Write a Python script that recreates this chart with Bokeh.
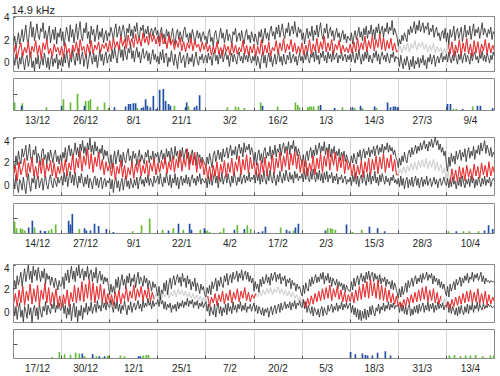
import numpy as np
from bokeh.plotting import figure
from bokeh.layouts import column
from bokeh.models import FixedTicker
from bokeh.embed import file_html
from bokeh.resources import INLINE

TITLE = "14.9 kHz"
SPAN_DAYS = 130
BOUNDS = [13, 26, 39, 52, 65, 78, 91, 104, 117]
CENTERS = [6.5, 19.5, 32.5, 45.5, 58.5, 71.5, 84.5, 97.5, 110.5, 123.5]
labels1 = ["13/12", "26/12", "8/1", "21/1", "3/2", "16/2", "1/3", "14/3", "27/3", "9/4"]
labels2 = ["14/12", "27/12", "9/1", "22/1", "4/2", "17/2", "2/3", "15/3", "28/3", "10/4"]
labels3 = ["17/12", "30/12", "12/1", "25/1", "7/2", "20/2", "5/3", "18/3", "31/3", "13/4"]

# ---------------- panel 1: black envelopes (3 samples/day), middle (2 samples/day) ----------------
upper1 = [
 1.5, 2.3, 1.2, 1.9, 2.6, 1.6, 2.2, 2.9, 1.8, 2.5, 3.3, 2.0, 1.7, 2.8, 3.6, 2.2, 3.1, 1.9, 2.6, 3.4, 2.4, 2.0, 3.0, 2.7, 3.5, 2.1, 2.8, 1.8, 2.5, 3.2, 1.7, 2.4, 2.9, 2.0, 3.1, 1.6, 2.6, 2.2, 3.0,
 1.9, 2.7, 1.4, 2.3, 3.1, 2.5, 1.8, 3.3, 2.2, 2.9, 1.7, 2.6, 3.4, 2.0, 2.8, 3.6, 2.3, 1.9, 3.0, 2.6, 3.5, 2.1, 2.7, 1.6, 3.2, 2.4, 2.9, 1.8, 2.5, 3.3, 2.0, 2.7, 2.2, 3.0, 1.7, 2.4, 2.8, 1.9, 2.6,
 2.3, 3.1, 2.6, 1.9, 2.9, 3.4, 2.2, 2.7, 3.2, 2.0, 2.8, 3.3, 2.5, 1.8, 3.0, 2.6, 3.4, 2.3, 2.9, 2.1, 3.2, 2.7, 3.5, 2.4, 2.0, 3.1, 2.8, 3.3, 2.2, 2.9, 2.5, 3.2, 2.1, 2.7, 3.0, 2.3, 2.8, 3.1, 2.4,
 2.8, 1.8, 2.6, 3.1, 2.0, 2.5, 1.6, 2.9, 2.3, 2.7, 1.7, 2.4, 3.0, 2.1, 1.5, 2.6, 2.9, 2.0, 2.7, 2.3, 1.8, 2.8, 3.1, 2.2, 2.5, 1.7, 2.6, 2.0, 2.9, 2.4, 1.6, 2.3, 2.8, 2.1, 2.6, 1.8, 2.4, 2.7, 2.0,
 2.3, 1.6, 2.6, 2.9, 1.8, 2.2, 1.4, 2.5, 2.8, 2.0, 1.6, 2.4, 3.0, 2.1, 2.6, 1.7, 2.3, 2.9, 1.9, 2.5, 2.2, 1.5, 2.7, 2.4, 3.0, 1.8, 2.3, 2.6, 1.9, 2.8, 2.1, 1.6, 2.5, 2.9, 2.0, 2.4, 1.7, 2.7, 2.2,
 1.8, 2.5, 2.0, 1.5, 2.7, 2.2, 2.9, 1.7, 2.4, 3.0, 2.1, 2.6, 1.9, 2.8, 3.2, 2.3, 2.7, 2.0, 3.1, 2.5, 3.3, 2.2, 2.8, 3.4, 2.4, 2.1, 3.0, 2.6, 3.5, 2.3, 2.9, 3.2, 2.5, 3.6, 2.7, 2.2, 3.1, 2.6, 2.9,
 2.0, 2.6, 1.6, 2.4, 3.0, 2.1, 2.7, 2.3, 3.2, 1.9, 2.8, 2.4, 3.3, 2.2, 2.9, 3.5, 2.4, 2.0, 3.0, 2.6, 3.4, 2.1, 2.7, 3.1, 2.3, 2.8, 1.9, 2.5, 3.0, 2.2, 2.6, 1.8, 2.4, 2.8, 2.0, 2.5, 1.7, 2.3, 2.1,
 1.9, 2.6, 1.6, 2.3, 2.8, 2.0, 2.5, 3.1, 2.2, 2.7, 1.9, 3.0, 2.4, 3.2, 2.1, 2.8, 2.5, 3.3, 2.3, 2.9, 2.0, 3.1, 2.6, 3.4, 2.4, 2.8, 3.2, 2.2, 3.0, 2.7, 3.5, 2.5, 3.1, 2.8, 3.7, 2.4, 3.0, 2.6, 2.2,
 1.4, 2.0, 1.6, 2.4, 1.9, 2.6, 2.2, 1.8, 2.9, 2.4, 3.2, 2.6, 3.0, 3.6, 2.5, 3.3, 2.8, 3.7, 2.7, 3.1, 3.5, 2.6, 3.2, 2.9, 3.5, 2.4, 3.0, 2.7, 3.3, 2.2, 2.8, 3.1, 2.3, 2.6, 1.9, 2.5, 2.8, 2.1, 3.0,
 1.8, 2.6, 1.5, 2.9, 2.2, 2.5, 3.2, 1.9, 2.7, 3.0, 2.1, 2.6, 3.1, 1.8, 2.5, 3.3, 2.2, 2.8, 2.4, 3.2, 2.0, 2.7, 3.4, 2.3, 2.9, 2.6, 3.1, 2.1, 2.8, 3.5, 2.4, 3.0, 2.6, 2.2, 2.9, 2.5, 3.1, 2.0, 2.7,
 2.5]
lower1 = [
 0.5, -0.3, 0.7, 0.1, -0.6, 0.4, -0.2, 0.8, 0.0, -0.7, 0.3, 0.6, -0.4, 0.2, 0.9, -0.5, 0.1, -0.8, 0.4, -0.2, 0.6, -0.6, 0.0, 0.5, -0.3, 0.8, 0.2, -0.5, 0.4, -0.7, 0.1, 0.6, -0.4, 0.3, -0.1, 0.7, -0.6, 0.2, -0.3,
 0.4, -0.4, 0.7, -0.1, 1.0, 0.2, -0.5, 0.6, 0.0, 1.1, 0.3, -0.3, 0.8, 0.1, 1.2, -0.2, 0.5, 0.9, -0.4, 0.3, 0.7, -0.6, 0.2, 1.0, 0.4, -0.2, 0.8, 0.0, 0.6, -0.5, 0.3, 1.1, 0.1, 0.7, -0.3, 0.5, 0.9, -0.1, 0.4,
 0.7, 0.0, 1.1, 0.3, 1.3, 0.5, -0.1, 0.9, 1.5, 0.4, 1.1, 0.1, 1.4, 0.6, 0.2, 1.2, 0.8, 1.6, 0.3, 1.0, 0.0, 0.8, 1.3, 0.4, 0.9, -0.1, 0.7, 1.2, 0.3, 0.6, 1.0, 0.1, 0.8, -0.2, 0.5, 1.1, 0.2, 0.7, 0.0,
 0.5, -0.2, 0.9, 0.2, 1.1, -0.1, 0.6, 0.8, -0.4, 0.4, 0.0, 1.0, 0.3, -0.3, 0.7, 0.1, -0.6, 0.5, 0.9, -0.1, 0.3, 0.6, -0.5, 0.2, 0.8, -0.2, 0.4, 0.0, 0.7, -0.4, 0.3, 0.9, 0.1, -0.3, 0.5, 0.2, 0.7, -0.1, 0.4,
 0.6, -0.1, 0.8, 0.2, 0.5, -0.3, 0.7, 1.0, 0.1, 0.6, -0.2, 0.8, 0.3, 1.1, 0.0, 0.5, 0.9, 0.2, 0.6, -0.4, 0.4, 0.8, 0.0, 0.7, 0.3, -0.2, 0.6, 0.9, 0.1, 0.5, -0.1, 0.8, 0.2, 0.6, 0.0, 0.9, 0.3, -0.1, 0.5,
 0.1, 0.7, -0.3, 0.5, 0.0, -0.6, 0.4, 0.9, -0.1, 0.6, -0.5, 0.3, 0.8, 0.0, 0.5, -0.4, 0.2, 0.7, -0.2, 0.4, 0.9, 0.0, 0.5, -0.3, 0.7, 0.1, -0.2, 0.6, 0.2, 0.9, -0.1, 0.4, 0.7, 0.0, 0.5, -0.3, 0.3, 0.8, 0.1,
 0.5, -0.1, 0.8, 0.2, 1.0, 0.3, -0.1, 0.7, 0.4, 0.9, 0.0, 1.1, 0.2, 0.6, -0.2, 0.8, 0.4, 1.0, 0.1, 0.6, -0.1, 0.9, 0.3, 0.7, 0.0, 1.0, 0.2, 0.5, 0.8, -0.1, 0.6, 0.3, 0.9, 0.1, 0.5, 0.7, 0.0, 0.6, 0.2,
 0.7, 0.0, 1.0, 0.3, -0.1, 0.8, 0.2, 1.1, 0.4, -0.2, 0.7, 0.1, 0.9, 0.3, 1.0, 0.0, 0.6, 0.2, -0.1, 0.8, 0.4, 1.0, 0.1, 0.7, -0.2, 0.5, 0.9, 0.2, 0.6, 0.0, 0.8, 0.3, -0.1, 0.7, 0.4, 0.9, 0.0, 0.5, 0.3,
 0.4, -0.4, 0.6, -0.1, -0.6, 0.3, -0.3, 0.5, 0.0, -0.7, 0.2, -0.4, 0.5, -0.6, 0.1, -0.2, 0.4, -0.5, 0.3, -0.1, 0.6, -0.3, 0.2, -0.6, 0.4, 0.0, 0.7, -0.2, 0.3, 0.6, -0.4, 0.2, 0.5, -0.1, 0.4, 0.8, 0.0, 0.5, 0.2,
 0.7, 0.0, 0.9, 0.3, -0.1, 0.6, 0.1, 1.0, 0.3, -0.2, 0.7, 0.2, 0.9, -0.1, 0.5, 0.8, 0.0, 0.6, 0.3, -0.2, 0.8, 0.1, 0.6, 0.9, 0.2, 0.5, -0.1, 0.7, 0.3, 1.0, 0.1, 0.6, 0.0, 0.8, 0.4, -0.1, 0.6, 0.2, 0.9,
 0.5]
mid1 = [
 0.6, 1.5, 0.3, 1.2, 1.7, 0.5, 1.3, 0.8, 1.8, 0.4, 1.4, 0.9, 1.9, 0.6, 1.5, 0.3, 1.7, 1.1, 2.0, 0.7, 1.2, 0.5, 1.6, 0.9, 1.3, 0.6,
 1.4, 0.4, 1.7, 0.8, 1.2, 0.3, 1.5, 0.9, 1.8, 0.6, 2.0, 1.0, 1.4, 0.5, 1.6, 0.8, 1.9, 0.7, 1.5, 1.1, 1.8, 0.8, 1.6, 1.2, 1.7, 0.9,
 1.9, 1.0, 2.1, 1.3, 1.8, 1.1, 2.3, 1.4, 2.0, 1.2, 2.4, 1.5, 2.1, 1.3, 2.5, 1.6, 2.2, 1.4, 2.6, 1.7, 2.3, 1.5, 2.6, 1.8, 2.4, 1.6,
 2.3, 1.4, 2.6, 1.6, 2.1, 1.2, 2.4, 1.5, 2.0, 1.1, 1.9, 1.3, 2.2, 1.0, 1.8, 0.9, 1.7, 1.2, 2.1, 1.0, 1.9, 1.3, 1.6, 0.9, 1.8, 1.1,
 1.7, 0.9, 1.5, 0.6, 1.4, 0.8, 1.8, 0.7, 1.3, 0.5, 1.6, 0.9, 1.4, 0.6, 1.7, 0.8, 1.5, 0.7, 1.3, 0.9, 1.9, 0.7, 1.5, 0.6, 1.4, 0.8,
 1.6, 0.5, 1.4, 0.7, 2.0, 0.6, 1.5, 0.8, 1.8, 0.5, 1.3, 1.0, 1.9, 0.7, 1.7, 1.0, 2.1, 0.8, 1.6, 1.1, 2.0, 0.9, 1.7, 0.7, 1.4, 0.8,
 1.7, 0.6, 1.5, 0.9, 2.0, 0.7, 1.6, 1.0, 2.1, 0.8, 1.8, 1.1, 2.3, 0.9, 1.7, 1.0, 2.0, 0.7, 1.6, 1.1, 1.9, 0.8, 1.5, 0.9, 1.3, 0.8,
 1.6, 0.8, 1.8, 0.9, 2.1, 1.0, 1.7, 1.1, 2.3, 0.9, 1.9, 1.2, 2.4, 1.0, 2.0, 1.3, 2.5, 1.1, 2.2, 1.0, 1.9, 1.2, 2.1, 1.0, 1.7, 0.9,
 1.0, 1.4, 0.8, 1.5, 1.0, 1.7, 0.9, 1.6, 1.2, 1.9, 1.0, 1.7, 1.3, 1.8, 1.1, 1.6, 0.9, 1.5, 1.0, 1.7, 0.8, 1.4, 0.9, 1.3, 0.7, 1.2,
 0.6, 1.6, 0.7, 1.8, 0.5, 1.5, 0.8, 2.0, 0.6, 1.7, 0.9, 2.1, 0.7, 1.6, 0.5, 1.9, 0.8, 1.8, 0.6, 1.6, 1.0, 2.0, 0.7, 1.7, 0.8, 1.5,
 1.0]
red_spans1 = [(0, 104), (117.5, 130)]
green_day1 = [0.3, 2.4, 8.9, 13.5, 15.4, 17.3, 19.5, 20.3, 20.8, 22.7, 24.6, 25.7, 33.5, 43.5, 47.3, 57.8, 60.0, 60.8, 62.4,
              66.8, 71.4, 76.2, 76.8, 77.3, 79.5, 80.0, 80.5, 81.1, 82.4, 88.9, 92.2, 94.3, 98.1, 118.9, 119.7, 124.1]
green_val1 = [0.5, 0.45, 0.2, 0.7, 0.5, 1.05, 0.6, 0.6, 0.7, 0.25, 0.5, 0.15, 0.15, 0.3, 0.25, 0.2, 0.25, 0.2, 0.15,
              0.5, 0.25, 0.5, 0.35, 0.2, 0.2, 0.25, 0.25, 0.25, 0.3, 0.2, 0.15, 0.15, 0.15, 0.1, 0.1, 0.25]
blue_day1 = [2.2, 13.0, 19.2, 27.3, 30.3, 31.1, 31.6, 32.4, 33.0, 34.6, 35.1, 35.7, 36.2, 37.0, 37.8, 38.6, 39.5, 40.5, 41.1,
             41.9, 42.4, 46.5, 46.8, 48.9, 49.5, 50.3, 67.3, 83.0, 86.8, 91.6, 93.8, 97.6, 101.1, 101.9, 102.7, 103.2, 103.8,
             117.3, 118.1, 121.4, 125.4, 126.2, 129.5]
blue_val1 = [0.3, 0.3, 0.3, 0.2, 0.25, 0.4, 0.4, 0.45, 0.45, 0.15, 0.2, 0.7, 0.3, 0.2, 0.9, 0.1, 1.3, 1.35, 0.6,
             0.4, 0.3, 0.2, 0.5, 0.2, 0.3, 0.95, 0.3, 0.35, 0.15, 0.2, 0.3, 0.25, 0.5, 0.2, 0.25, 0.25, 0.2,
             0.4, 0.4, 0.1, 0.3, 0.3, 0.15]

# ---------------- panel 2 ----------------
upper2 = [
 2.0, 1.4, 2.5, 1.7, 2.9, 2.2, 1.8, 3.1, 2.4, 2.8, 3.4, 2.1, 2.7, 3.5, 2.3, 2.0, 3.0, 2.6, 3.3, 1.9, 2.7, 2.4, 1.7, 2.9, 3.1, 2.2, 2.6, 1.8, 2.8, 2.1, 3.0, 2.5, 1.9, 2.7, 3.0, 2.0, 2.5, 1.8, 2.6,
 1.9, 2.8, 2.3, 3.2, 2.0, 2.9, 3.4, 2.5, 3.1, 2.2, 2.8, 3.6, 2.6, 3.2, 2.4, 3.5, 2.9, 3.8, 2.7, 3.3, 2.5, 3.6, 3.0, 4.0, 2.8, 3.4, 2.6, 3.7, 2.9, 3.3, 2.4, 3.1, 2.7, 3.4, 2.2, 3.0, 2.5, 2.9, 2.1,
 1.7, 2.6, 1.4, 2.3, 2.9, 1.8, 2.5, 3.0, 2.0, 2.6, 1.6, 2.8, 2.2, 1.9, 2.7, 3.1, 2.1, 2.5, 1.8, 2.9, 2.3, 2.7, 1.7, 2.4, 3.0, 2.0, 2.6, 2.2, 1.8, 2.8, 2.4, 3.0, 1.9, 2.5, 2.2, 2.9, 2.0, 2.7, 2.4,
 2.8, 1.9, 2.6, 3.0, 2.2, 2.7, 1.8, 3.1, 2.4, 2.9, 2.0, 3.2, 2.6, 2.2, 3.3, 2.5, 2.9, 1.9, 3.0, 2.4, 3.2, 2.1, 2.7, 3.1, 2.3, 2.8, 1.8, 2.6, 3.0, 2.1, 2.5, 1.7, 2.8, 2.3, 2.6, 1.9, 2.4, 2.1, 1.8,
 1.6, 2.4, 1.8, 2.7, 2.1, 1.5, 2.6, 2.9, 2.0, 2.5, 3.0, 2.2, 2.8, 2.0, 3.1, 2.4, 2.7, 3.2, 2.3, 2.9, 3.4, 2.5, 3.0, 2.6, 3.3, 2.2, 3.1, 3.5, 2.7, 3.2, 2.4, 3.6, 2.8, 3.3, 3.0, 3.5, 2.6, 3.2, 2.8,
 2.0, 2.8, 1.7, 2.6, 3.0, 2.1, 2.7, 1.9, 2.9, 3.2, 2.3, 2.8, 2.5, 3.3, 2.2, 3.0, 2.6, 3.4, 2.4, 3.1, 2.8, 3.5, 2.5, 3.2, 3.6, 2.7, 3.3, 2.9, 3.7, 2.6, 3.4, 3.1, 3.8, 2.8, 3.3, 2.5, 3.1, 2.7, 2.2,
 1.8, 2.6, 1.6, 2.5, 2.9, 2.1, 2.8, 3.2, 2.3, 3.0, 2.5, 3.4, 2.6, 3.1, 3.6, 2.7, 3.3, 2.9, 3.7, 2.6, 3.2, 2.8, 3.5, 2.4, 3.1, 2.7, 3.3, 2.3, 2.9, 2.5, 3.1, 2.1, 2.8, 2.4, 2.9, 2.0, 2.6, 2.2, 1.9,
 1.7, 2.5, 1.9, 2.7, 2.2, 1.8, 2.8, 2.4, 3.0, 2.1, 2.7, 3.1, 2.3, 2.9, 2.6, 3.2, 2.4, 3.0, 2.7, 3.3, 2.5, 3.1, 3.4, 2.6, 3.2, 2.8, 3.5, 2.7, 3.3, 3.0, 3.6, 2.8, 3.4, 2.9, 3.2, 2.6, 3.0, 2.4, 2.1,
 1.5, 2.3, 1.7, 2.5, 2.0, 2.8, 2.2, 1.9, 2.7, 3.0, 2.4, 3.2, 2.6, 3.0, 3.4, 2.7, 3.3, 2.9, 3.6, 3.0, 3.4, 3.8, 3.1, 3.5, 2.9, 3.7, 3.3, 3.9, 3.2, 3.6, 4.1, 3.4, 3.8, 3.0, 3.5, 2.8, 3.2, 2.5, 2.9,
 1.8, 1.2, 2.4, 1.6, 2.7, 2.0, 2.5, 1.8, 2.9, 2.2, 2.6, 3.0, 2.1, 2.8, 2.4, 3.1, 2.0, 2.7, 3.2, 2.3, 2.9, 2.5, 3.3, 2.2, 3.0, 2.7, 3.4, 2.6, 3.6, 2.9, 3.3, 3.8, 2.7, 3.4, 3.0, 2.5, 3.2, 2.4, 2.8,
 2.6]
lower2 = [
 0.6, -0.3, 0.9, 0.0, -0.6, 0.5, 0.2, -0.4, 0.7, -0.1, -0.7, 0.4, 1.0, 0.0, -0.5, 0.6, 0.2, 0.9, -0.3, 0.5, 0.8, -0.2, 0.3, 0.6, -0.4, 0.4, 0.8, 0.0, -0.3, 0.5, 0.9, 0.1, -0.2, 0.6, 0.3, -0.1, 0.7, 0.2, 0.5,
 0.8, 0.0, 1.1, 0.3, 1.0, -0.1, 0.7, 1.2, 0.2, 0.9, 0.0, 1.1, 0.4, -0.2, 0.8, 0.2, 1.0, 0.4, -0.1, 0.7, 0.1, 0.9, -0.2, 0.6, 0.3, -0.3, 0.5, 0.8, 0.0, 0.6, -0.2, 0.4, 0.7, -0.3, 0.3, 0.6, -0.1, 0.4, 0.2,
 0.6, -0.3, 0.5, -0.6, 0.3, 0.7, -0.2, 0.4, -0.5, 0.2, 0.6, -0.4, 0.3, 0.8, -0.1, 0.4, -0.3, 0.6, 0.1, -0.2, 0.5, 0.0, 0.7, -0.3, 0.4, 0.8, 0.1, 0.5, -0.1, 0.7, 0.2, 0.9, 0.0, 0.6, 0.3, -0.1, 0.8, 0.2, 0.5,
 0.8, 0.1, 1.0, 0.3, -0.1, 0.7, 0.2, 1.1, 0.4, 0.0, 0.9, -0.2, 0.6, 0.2, 1.0, 0.0, 0.7, -0.3, 0.5, 0.8, 0.0, 0.6, 0.2, 0.9, 0.1, 0.7, -0.1, 0.5, 0.9, 0.2, 0.6, 0.0, 0.8, 0.3, 1.0, 0.1, 0.6, 0.4, 0.2,
 0.6, -0.2, 0.8, 0.1, 1.0, 0.0, 0.6, 1.1, 0.2, 0.8, -0.2, 0.7, 0.3, 1.1, 0.1, 0.6, 0.9, 0.2, 1.0, 0.4, -0.1, 0.8, 0.2, 1.1, 0.5, 0.0, 0.7, 0.3, 1.0, 0.1, 0.6, 0.9, 0.2, 0.8, 0.4, 1.1, 0.3, 0.7, 0.5,
 0.9, 0.2, 1.2, 0.4, 1.0, 0.1, 0.9, 0.3, 1.3, 0.5, 0.1, 1.0, 0.4, 1.3, 0.6, 0.2, 1.1, 0.5, 0.0, 0.9, 0.3, 1.2, 0.6, 0.2, 1.0, 0.4, 1.3, 0.7, 0.3, 1.1, 0.5, 0.9, 0.2, 1.2, 0.6, 1.0, 0.4, 0.8, 0.6,
 1.0, 0.3, 1.3, 0.5, 1.5, 0.6, 0.3, 1.2, 0.5, 1.4, 0.7, 0.3, 1.1, 0.5, 1.3, 0.4, 1.0, 0.2, 1.1, 0.5, 1.2, 0.3, 0.9, 0.6, 1.1, 0.2, 0.8, 0.4, 1.0, 0.1, 0.7, 0.5, 0.9, 0.2, 0.6, 0.8, 0.1, 0.5, 0.3,
 0.7, 0.0, 0.9, 0.3, 1.1, 0.1, 0.8, -0.1, 0.6, 0.9, 0.2, 1.2, 0.4, 0.0, 1.0, 0.3, 1.1, 0.1, 0.8, 0.4, 1.2, 0.2, 0.7, 0.0, 0.9, 0.3, 1.0, 0.5, 0.1, 0.8, 0.3, 0.6, 0.0, 0.7, 0.4, 0.9, 0.2, 0.5, 0.1,
 0.6, -0.1, 0.8, 0.0, 0.6, -0.3, 0.4, 0.7, -0.2, 0.5, 0.0, 0.7, -0.1, 0.4, 0.8, 0.0, 0.6, -0.2, 0.3, 0.7, -0.1, 0.5, 0.1, 0.8, 0.0, 0.4, 0.6, -0.1, 0.3, 0.7, 0.1, 0.5, -0.2, 0.4, 0.6, 0.0, 0.3, 0.7, 0.2,
 0.0, 0.6, -0.2, 0.5, -0.1, 0.7, 0.1, 0.4, -0.3, 0.5, 0.0, 0.7, -0.1, 0.8, 0.2, -0.2, 0.5, 0.1, 0.6, -0.1, 0.8, 0.2, 0.6, -0.2, 0.5, 0.0, 0.7, 0.3, -0.1, 0.6, 0.1, 0.8, 0.0, 0.5, 0.2, 0.7, -0.1, 0.4, 0.6,
 0.4]
mid2 = [
 0.8, 1.7, 0.4, 2.0, 0.9, 1.5, 2.3, 0.7, 1.9, 1.1, 2.4, 0.8, 1.6, 0.6, 2.1, 1.0, 2.3, 0.7, 1.8, 1.2, 2.1, 0.8, 1.9, 0.6, 1.6, 1.0,
 2.0, 1.1, 2.2, 0.8, 1.9, 1.3, 2.6, 1.0, 2.3, 1.5, 2.9, 1.2, 2.5, 1.7, 3.1, 1.4, 2.7, 1.1, 2.4, 1.6, 2.8, 1.3, 2.2, 0.9, 2.0, 1.2,
 1.8, 0.8, 1.9, 0.5, 1.6, 1.0, 2.1, 0.7, 1.7, 0.5, 1.5, 0.9, 2.0, 0.6, 1.8, 1.1, 2.2, 0.8, 1.7, 1.0, 2.1, 0.7, 1.9, 1.2, 2.3, 0.9,
 1.9, 1.1, 2.1, 1.4, 2.4, 1.0, 2.0, 1.3, 2.5, 1.1, 2.2, 1.5, 2.9, 1.2, 2.3, 1.6, 3.1, 1.3, 2.6, 1.7, 2.8, 1.1, 2.4, 1.4, 2.2, 0.9,
 1.8, 0.6, 1.6, 0.4, 1.7, 0.8, 2.0, 0.5, 1.8, 1.0, 2.1, 0.7, 1.9, 1.1, 2.3, 0.8, 2.0, 1.2, 2.5, 0.9, 2.2, 1.3, 2.6, 1.0, 2.4, 1.4,
 2.0, 0.9, 1.9, 0.7, 2.1, 1.1, 2.4, 0.8, 2.0, 1.3, 2.6, 1.0, 2.3, 1.5, 2.8, 1.2, 2.5, 1.6, 3.0, 1.3, 2.7, 1.7, 2.9, 1.4, 2.6, 1.1,
 2.2, 1.0, 2.1, 0.8, 1.9, 1.2, 2.5, 0.9, 2.3, 1.4, 2.7, 1.1, 2.5, 1.6, 3.0, 1.3, 2.7, 1.7, 2.8, 1.2, 2.4, 1.5, 2.6, 1.0, 2.2, 1.3,
 1.9, 0.8, 1.8, 0.6, 1.7, 0.9, 2.1, 0.7, 2.0, 1.1, 2.3, 0.9, 2.2, 1.3, 2.5, 1.0, 2.4, 1.4, 2.7, 1.1, 2.3, 1.5, 2.6, 1.2, 2.2, 0.9,
 0.9, 1.4, 1.0, 1.6, 1.0, 1.7, 1.2, 1.9, 1.3, 2.0, 1.3, 2.1, 1.5, 2.2, 1.5, 2.3, 1.4, 2.1, 1.5, 2.2, 1.3, 2.0, 1.2, 1.8, 1.0, 1.5,
 0.3, 1.2, 0.2, 1.4, 0.4, 1.3, 0.3, 1.6, 0.6, 1.5, 0.4, 1.7, 0.7, 1.4, 0.5, 1.8, 0.8, 1.6, 0.6, 1.9, 0.9, 1.7, 0.7, 2.0, 0.8, 1.6,
 1.0]
red_spans2 = [(0, 104), (118, 130)]
green_day2 = [0.3, 0.8, 1.9, 2.4, 3.0, 5.7, 9.5, 10.3, 11.4, 17.8, 32.2, 34.6, 36.8, 40.3, 43.2, 45.9, 50.5, 52.4, 53.0,
              55.9, 56.8, 60.5, 63.2, 64.1, 72.2, 75.7, 84.9, 85.7, 86.2, 87.0, 91.6, 94.1, 117.6, 121.6, 123.2, 125.7]
green_val2 = [0.8, 0.35, 0.35, 0.3, 0.2, 0.4, 0.2, 0.3, 0.6, 0.3, 0.15, 0.55, 1.0, 0.25, 0.35, 0.25, 0.25, 0.2, 0.1,
              0.1, 0.35, 0.55, 0.55, 0.3, 0.4, 0.2, 0.35, 0.35, 0.3, 0.25, 0.1, 0.25, 0.15, 0.15, 0.15, 0.15]
blue_day2 = [4.1, 5.1, 7.3, 8.4, 8.6, 14.9, 15.4, 15.9, 19.2, 19.7, 20.8, 21.9, 23.0, 25.1, 27.0, 41.9, 44.6, 47.6, 48.1,
             51.6, 59.7, 62.4, 66.2, 67.3, 68.1, 73.8, 74.6, 76.2, 77.0, 84.3, 90.0, 96.2, 98.4, 100.3, 119.7, 127.3,
             128.4, 129.5]
blue_val2 = [0.4, 0.85, 0.2, 0.15, 0.15, 0.85, 0.6, 1.3, 0.35, 0.2, 0.2, 0.65, 0.5, 0.3, 0.1, 0.2, 0.65, 0.65, 0.25,
             0.35, 0.25, 0.3, 0.1, 0.15, 0.45, 0.25, 0.15, 0.4, 0.65, 0.2, 0.6, 0.45, 0.35, 0.15, 0.15, 0.2,
             0.55, 0.3]

# ---------------- panel 3 ----------------
upper3 = [
 1.8, 2.7, 2.0, 3.1, 2.3, 2.8, 3.4, 2.2, 3.0, 3.7, 2.6, 3.3, 4.0, 2.8, 3.5, 2.5, 3.9, 3.1, 3.6, 2.7, 3.8, 3.2, 2.6, 3.5, 2.9, 3.7, 2.4, 3.3, 2.8, 3.1, 2.3, 3.0, 2.6, 2.1, 2.9, 2.4, 1.9, 2.7, 2.2,
 2.3, 3.0, 2.0, 3.3, 2.7, 3.6, 2.5, 3.2, 3.9, 2.8, 3.5, 2.6, 3.8, 3.1, 4.0, 2.9, 3.4, 3.7, 2.7, 3.5, 3.0, 3.9, 2.8, 3.3, 3.6, 2.6, 3.4, 2.9, 3.8, 2.5, 3.1, 3.5, 2.7, 3.2, 2.4, 3.0, 2.6, 2.9, 2.2,
 1.5, 2.4, 1.7, 2.2, 1.6, 2.8, 2.1, 3.0, 1.9, 2.6, 3.2, 2.3, 2.8, 2.0, 3.1, 2.5, 3.3, 2.2, 2.9, 2.6, 3.2, 2.1, 2.8, 3.4, 2.4, 3.0, 2.7, 2.2, 3.1, 2.5, 2.9, 2.0, 2.7, 2.3, 1.8, 2.6, 2.1, 2.4, 1.9,
 1.4, 2.2, 1.1, 1.9, 1.6, 2.5, 1.8, 2.7, 1.5, 2.4, 2.9, 2.0, 2.7, 3.1, 2.3, 2.8, 3.2, 2.5, 3.0, 2.2, 3.3, 2.6, 2.9, 2.1, 3.1, 2.4, 2.8, 1.9, 2.6, 2.2, 2.9, 1.8, 2.5, 2.1, 1.6, 2.4, 1.9, 2.2, 1.5,
 1.3, 2.1, 1.6, 2.3, 1.5, 2.6, 2.0, 2.4, 2.9, 1.8, 2.7, 2.2, 3.0, 2.4, 2.1, 3.1, 2.6, 3.3, 2.3, 2.9, 3.2, 2.5, 3.4, 2.8, 3.0, 3.5, 2.6, 3.3, 2.9, 3.6, 2.7, 3.2, 3.5, 2.8, 3.4, 2.6, 3.1, 2.5, 2.9,
 1.8, 2.6, 2.0, 2.4, 1.7, 2.8, 2.2, 3.0, 2.4, 2.7, 3.2, 2.5, 3.0, 2.3, 3.3, 2.7, 3.1, 3.4, 2.6, 3.2, 2.8, 3.3, 2.4, 3.0, 2.7, 3.1, 2.2, 2.8, 2.5, 2.9, 2.0, 2.7, 2.3, 2.5, 1.8, 2.4, 2.0, 2.2, 1.7,
 1.4, 2.3, 1.6, 2.5, 2.0, 1.8, 2.8, 2.2, 3.0, 2.4, 2.8, 3.2, 2.5, 3.0, 2.6, 3.3, 2.8, 3.4, 2.4, 3.1, 2.7, 3.3, 2.5, 3.0, 2.2, 2.9, 2.6, 2.3, 2.8, 2.0, 2.6, 2.2, 2.5, 1.9, 2.4, 1.7, 2.3, 2.0, 1.8,
 1.8, 2.6, 1.9, 2.9, 2.2, 2.7, 3.1, 2.3, 2.9, 3.3, 2.6, 3.1, 2.5, 3.4, 2.8, 3.5, 2.7, 3.2, 3.4, 2.6, 3.3, 2.8, 3.1, 2.5, 3.2, 2.4, 2.9, 2.6, 3.0, 2.2, 2.8, 2.4, 2.6, 2.0, 2.7, 1.9, 2.5, 2.1, 1.7,
 1.2, 2.0, 1.3, 2.2, 1.5, 1.9, 2.5, 1.7, 2.7, 2.1, 2.5, 2.9, 2.2, 2.8, 3.1, 2.4, 2.9, 2.6, 3.2, 2.5, 3.3, 2.8, 3.0, 3.4, 2.7, 3.2, 2.9, 3.3, 2.4, 3.1, 2.6, 2.9, 2.3, 2.8, 2.1, 2.6, 2.0, 2.4, 1.8,
 1.4, 2.2, 1.3, 2.4, 1.8, 2.2, 2.6, 1.9, 2.8, 2.3, 2.6, 3.0, 2.2, 2.9, 2.5, 3.1, 2.7, 3.3, 2.5, 3.0, 2.8, 3.4, 2.6, 3.2, 2.9, 3.3, 2.7, 3.0, 3.4, 2.6, 3.1, 2.4, 2.9, 2.6, 2.7, 2.5, 2.7, 2.6, 2.6,
 2.6]
lower3 = [
 0.7, -0.3, 0.5, -0.6, 0.3, 0.8, -0.4, 0.2, -0.8, 0.5, 0.1, -0.5, 0.7, -0.2, 0.4, -0.9, 0.2, 0.6, -0.3, 0.4, -0.6, 0.8, 0.0, -0.4, 0.5, 0.1, 0.9, -0.2, 0.6, 0.2, -0.1, 0.7, 0.3, 1.0, 0.0, 0.6, 0.3, 0.8, 0.2,
 0.3, 1.0, -0.1, 0.6, -0.5, 0.4, -0.2, 0.7, -0.7, 0.3, 0.8, -0.4, 0.5, -0.8, 0.2, -0.3, 0.6, -0.6, 0.4, 0.0, 0.8, -0.2, 0.5, 0.1, 0.9, -0.1, 0.4, 0.7, 0.0, 1.0, 0.3, 0.6, 0.1, 1.1, 0.4, 0.8, 0.2, 0.9, 0.5,
 0.4, 1.1, 0.5, 0.0, 0.9, 0.3, 1.0, 0.1, 0.7, -0.1, 0.6, 0.2, 1.0, 0.4, -0.2, 0.6, 0.2, 0.9, 0.0, 0.5, 0.8, 0.2, 0.6, 1.0, 0.3, 0.7, 0.1, 1.1, 0.4, 0.8, 0.5, 1.2, 0.6, 0.9, 0.3, 1.0, 0.5, 0.8, 0.7,
 1.1, 0.5, 1.3, 0.7, 1.0, 0.3, 0.9, 0.2, 0.7, 0.4, 0.8, 0.0, 0.6, 0.3, 0.7, 0.1, 0.9, 0.3, 0.8, 0.5, 1.0, 0.4, 0.9, 0.6, 1.2, 0.5, 1.0, 0.7, 1.1, 0.4, 0.9, 0.6, 1.0, 0.3, 0.8, 0.5, 0.9, 0.4, 0.7,
 0.9, 0.1, 0.7, -0.3, 0.5, 0.1, -0.2, 0.7, -0.4, 0.4, 0.8, -0.1, 0.5, -0.3, 0.4, 0.0, 0.7, -0.2, 0.8, 0.1, 0.5, -0.1, 0.9, 0.2, 0.6, 0.0, 0.7, 0.3, 0.9, 0.1, 0.6, 0.2, 0.8, 0.0, 0.5, 0.3, 0.7, 0.1, 0.5,
 0.8, 0.1, 0.6, -0.1, 0.5, 0.2, -0.2, 0.4, -0.3, 0.3, 0.0, 0.4, -0.4, 0.2, 0.5, -0.2, 0.3, 0.6, -0.1, 0.4, 0.7, 0.0, 0.8, 0.2, 0.5, 0.9, 0.3, 0.7, 0.4, 0.9, 0.2, 0.8, 0.5, 1.0, 0.3, 0.8, 0.6, 1.0, 0.5,
 0.4, 1.1, 0.3, 0.9, 0.0, 0.6, 0.2, -0.1, 0.5, -0.3, 0.4, 0.1, -0.2, 0.3, -0.4, 0.2, 0.5, -0.3, 0.4, 0.0, -0.2, 0.6, 0.1, 0.4, 0.7, 0.0, 0.5, 0.2, 0.8, 0.1, 0.6, 0.3, 0.9, 0.2, 0.7, 0.4, 0.8, 0.3, 0.6,
 0.8, 0.0, 0.6, -0.2, 0.4, -0.4, 0.3, -0.6, 0.2, -0.7, 0.1, -0.5, 0.3, -0.6, 0.2, -0.4, 0.5, -0.2, 0.6, 0.0, -0.3, 0.4, 0.1, 0.7, -0.1, 0.5, 0.2, 0.8, 0.1, 0.6, 0.3, 0.9, 0.2, 0.7, 0.4, 0.8, 0.3, 0.6, 0.5,
 0.7, 0.0, 0.8, 0.1, 0.6, -0.1, 0.5, -0.2, 0.4, 0.7, -0.3, 0.3, -0.2, 0.5, 0.0, 0.6, -0.1, 0.7, 0.1, 0.5, 0.8, 0.0, 0.6, 0.2, 0.9, 0.1, 0.7, 0.3, 0.8, 0.0, 0.6, 0.2, 0.9, 0.3, 0.7, 0.4, 0.8, 0.2, 0.6,
 0.5, 0.9, 0.0, 0.7, -0.1, 0.5, 0.2, -0.2, 0.4, -0.3, 0.5, -0.1, 0.6, 0.1, -0.2, 0.5, 0.0, 0.7, -0.1, 0.6, 0.2, 0.8, 0.0, 0.6, 0.3, 0.9, 0.1, 0.7, 0.4, 0.2, 0.8, 0.3, 0.6, 0.4, 0.7, 0.5, 0.6, 0.4, 0.5,
 0.4]
mid3 = [
 0.7, 1.6, 0.5, 1.9, 0.8, 2.2, 0.6, 1.8, 1.0, 2.4, 0.7, 2.0, 0.9, 2.3, 0.6, 1.9, 1.1, 2.5, 0.8, 2.1, 0.6, 1.7, 0.9, 2.0, 0.5, 1.4,
 0.4, 1.5, 0.7, 1.9, 0.5, 1.7, 0.9, 2.3, 0.8, 2.1, 1.0, 2.6, 0.9, 2.4, 1.2, 2.8, 1.0, 2.5, 0.8, 2.2, 1.1, 2.4, 0.9, 2.0, 0.7, 1.6,
 0.8, 1.5, 0.6, 1.7, 0.9, 1.9, 0.7, 1.6, 1.1, 2.1, 0.9, 1.8, 1.2, 2.3, 1.0, 2.0, 1.3, 2.2, 1.0, 1.9, 1.2, 2.1, 0.9, 1.7, 1.1, 1.6,
 1.2, 1.5, 1.1, 1.6, 1.3, 1.8, 1.2, 1.7, 1.4, 1.9, 1.3, 2.0, 1.5, 1.9, 1.4, 1.8, 1.3, 1.7, 1.2, 1.6, 1.1, 1.5, 1.0, 1.4, 0.9, 1.3,
 0.7, 1.4, 0.5, 1.3, 0.8, 1.6, 0.6, 1.5, 0.9, 1.8, 0.7, 1.6, 1.0, 1.9, 0.8, 1.7, 1.1, 2.0, 0.9, 1.8, 1.2, 2.1, 1.0, 1.7, 0.9, 1.5,
 1.2, 1.6, 1.3, 1.8, 1.4, 1.9, 1.5, 2.0, 1.6, 2.1, 1.5, 2.0, 1.7, 2.2, 1.6, 2.0, 1.5, 1.9, 1.4, 1.8, 1.3, 1.7, 1.2, 1.5, 1.0, 1.3,
 0.5, 1.0, 0.4, 1.2, 0.6, 1.4, 0.7, 1.6, 0.9, 1.8, 1.0, 2.0, 1.1, 2.1, 1.2, 2.3, 1.0, 2.0, 1.3, 2.2, 1.1, 1.9, 0.9, 1.7, 0.8, 1.5,
 0.9, 1.7, 0.8, 1.9, 1.0, 2.2, 1.1, 2.4, 1.3, 2.6, 1.2, 2.8, 1.4, 2.5, 1.2, 2.7, 1.1, 2.3, 1.0, 2.1, 0.9, 1.9, 0.8, 1.6, 0.7, 1.4,
 0.5, 0.9, 0.4, 1.1, 0.5, 1.3, 0.7, 1.5, 0.8, 1.7, 0.9, 1.9, 1.0, 2.1, 1.1, 2.2, 0.9, 1.9, 1.0, 2.0, 0.8, 1.7, 0.7, 1.4, 0.6, 1.2,
 0.4, 0.9, 0.3, 1.1, 0.5, 1.3, 0.6, 1.4, 0.7, 1.6, 0.8, 1.8, 0.9, 1.9, 0.8, 1.7, 0.9, 2.0, 0.7, 1.6, 0.8, 1.8, 0.6, 1.5, 0.7, 1.3,
 0.9]
red_spans3 = [(0, 38), (52.5, 65.5), (78.5, 115.5), (117, 130)]
green_day3 = [10.5, 12.4, 13.8, 15.4, 16.8, 17.8, 19.2, 22.4, 25.4, 25.7, 28.9, 30.0, 35.1, 35.9, 36.5,
              117.8, 119.2, 120.8, 122.2, 123.5, 124.9, 126.8, 128.9, 129.8]
green_val3 = [0.1, 0.45, 0.3, 0.25, 0.4, 0.35, 0.15, 0.15, 0.15, 0.2, 0.2, 0.15, 0.2, 0.25, 0.25,
              0.2, 0.25, 0.15, 0.2, 0.2, 0.25, 0.15, 0.2, 0.2]
blue_day3 = [18.6, 21.4, 23.2, 24.6, 33.8, 34.3, 91.1, 92.4, 94.3, 95.1, 95.7, 97.0, 98.4, 100.5, 101.9]
blue_val3 = [0.35, 0.3, 0.15, 0.15, 0.15, 0.15, 0.45, 0.3, 0.35, 0.25, 0.2, 0.2, 0.4, 0.5, 0.2]

# ---------------- styling ----------------
FONT = "Liberation Sans"
TXT = "#262626"
BOX = "#8a8a8a"
GRID = "#d4d4d4"
TICK = "#4d4d4d"
W = 500


def times(a):
    return np.linspace(0, SPAN_DAYS, len(a))


def base_fig(height, mbt, mbb, y0, y1, title=None):
    kw = dict(title=title) if title else {}
    p = figure(width=W, height=height, x_range=(0, SPAN_DAYS), y_range=(y0, y1),
               output_backend="svg", toolbar_location=None,
               min_border_left=13, min_border_right=6,
               min_border_top=mbt, min_border_bottom=mbb, **kw)
    p.outline_line_color = BOX
    p.outline_line_width = 1
    p.outline_line_alpha = 1
    p.background_fill_color = "white"
    p.border_fill_color = "white"
    p.ygrid.visible = False
    p.xgrid.ticker = FixedTicker(ticks=BOUNDS)
    p.xgrid.grid_line_color = GRID
    p.xgrid.grid_line_width = 1
    for ax in (p.xaxis[0], p.yaxis[0]):
        ax.axis_line_color = None
        ax.major_label_text_font = FONT
        ax.major_label_text_font_size = "10px"
        ax.major_label_text_color = TXT
        ax.major_tick_line_color = TICK
        ax.minor_tick_line_color = TICK
        ax.minor_tick_in = 0
        ax.minor_tick_out = 0
    return p


def line_fig(upper, lower, mid, spans, height, mbt, mbb, title=None):
    p = base_fig(height, mbt, mbb, -0.85, 4.05, title)
    if title:
        p.title.text_font = FONT
        p.title.text_font_size = "11px"
        p.title.text_font_style = "normal"
        p.title.text_color = TXT
        p.title.align = "left"
        p.title.offset = -2
        p.title.standoff = 2
    p.yaxis.ticker = FixedTicker(ticks=[0, 2, 4])
    p.yaxis.major_tick_in = 2
    p.yaxis.major_tick_out = 0
    p.yaxis.major_label_standoff = 4
    # boundary tick marks only (no labels) along the bottom edge
    p.xaxis.ticker = FixedTicker(ticks=[], minor_ticks=BOUNDS)
    p.xaxis.minor_tick_in = 3
    p.xaxis.minor_tick_out = 0
    p.xaxis.major_tick_in = 0
    p.xaxis.major_tick_out = 0

    mid_a = np.array(mid, dtype=float)
    t_mid = times(mid_a)
    show = np.zeros(len(mid_a), dtype=bool)
    for a, b in spans:
        show |= (t_mid >= a) & (t_mid <= b)
    red = np.where(show, mid_a, np.nan)

    p.line(t_mid, mid_a, line_color="#d0d0d0", line_width=1.1)
    p.line(times(upper), upper, line_color="#303030", line_width=0.85)
    p.line(times(lower), lower, line_color="#303030", line_width=0.85)
    p.line(t_mid, red, line_color="#f2292b", line_width=1.0)
    return p


def bar_fig(gd, gv, bd, bv, labels, height, mbt, mbb):
    p = base_fig(height, mbt, mbb, 0, 2)
    # single unlabeled tick mark at mid height
    p.yaxis.ticker = FixedTicker(ticks=[], minor_ticks=[1])
    p.yaxis.minor_tick_in = 4
    p.yaxis.minor_tick_out = 0
    p.yaxis.major_tick_in = 0
    p.yaxis.major_tick_out = 0
    p.xaxis.ticker = FixedTicker(ticks=CENTERS, minor_ticks=BOUNDS)
    p.xaxis.major_label_overrides = {c: l for c, l in zip(CENTERS, labels)}
    p.xaxis.major_tick_in = 0
    p.xaxis.major_tick_out = 0
    p.xaxis.minor_tick_in = 3
    p.xaxis.major_label_standoff = 4
    p.vbar(x=gd, top=gv, bottom=0, width=0.45, fill_color="#62bb35", line_color=None)
    p.vbar(x=bd, top=bv, bottom=0, width=0.45, fill_color="#1f4ea3", line_color=None)
    return p


l1 = line_fig(upper1, lower1, mid1, red_spans1, 74, 13, 3, TITLE)
b1 = bar_fig(green_day1, green_val1, blue_day1, blue_val1, labels1, 62, 4, 26)
l2 = line_fig(upper2, lower2, mid2, red_spans2, 62, 1, 3)
b2 = bar_fig(green_day2, green_val2, blue_day2, blue_val2, labels2, 65, 5, 30)
l3 = line_fig(upper3, lower3, mid3, red_spans3, 62, 1, 3)
b3 = bar_fig(green_day3, green_val3, blue_day3, blue_val3, labels3, 51, 4, 16)

layout = column(l1, b1, l2, b2, l3, b3, spacing=0)
open("out.html", "w").write(file_html(layout, INLINE))
